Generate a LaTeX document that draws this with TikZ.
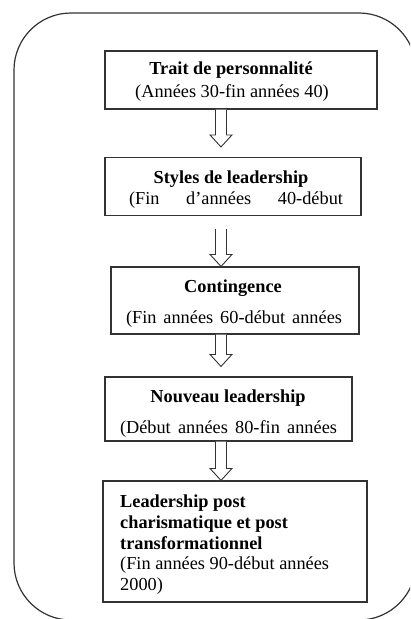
\documentclass[tikz,border=0pt]{standalone}
\usepackage{fontspec}
\setmainfont{Liberation Serif}
\usetikzlibrary{calc}

\tikzset{
  frame/.style={draw=black!80, line width=1.2pt, rounded corners=57pt},
  stage/.style={draw=black!80, line width=1.1pt, inner sep=0pt, fill=none},
  hollow/.style={draw=black!80, line width=0.9pt, fill=white, line join=miter},
  txt/.style={inner sep=0pt, anchor=base, font=\fontsize{18.3}{22}\selectfont},
  txtl/.style={txt, anchor=base west},
  hd/.style={txt, font=\fontsize{18.3}{22}\selectfont\bfseries},
  hdl/.style={hd, anchor=base west},
}

% hollow block arrow from a tail point down to a tip point, on the axis (ax)
\newcommand\blockarrow[2]{%
  \draw[hollow]
    ($(ax |- #1)+(-5.5pt,0)$) -- ($(ax |- #2)+(-5.5pt,12pt)$) --
    ($(ax |- #2)+(-11pt,12pt)$) -- (ax |- #2) --
    ($(ax |- #2)+(11pt,12pt)$) -- ($(ax |- #2)+(5.5pt,12pt)$) --
    ($(ax |- #1)+(5.5pt,0)$);
}

\begin{document}
\begin{tikzpicture}[x=1pt, y=-1pt]
  \useasboundingbox (0,0) rectangle (410,619);
  \clip (0,0) rectangle (410,619);

  % outer rounded frame
  \draw[frame] (14,13) rectangle (416,620);

  % stage boxes
  \node[stage, minimum width=272pt, minimum height=58pt] (b1) at (241,80) {};
  \node[stage, minimum width=256pt, minimum height=58pt] (b2) at (233,186.5) {};
  \node[stage, minimum width=248pt, minimum height=67pt] (b3) at (235,300.5) {};
  \node[stage, minimum width=247pt, minimum height=64pt] (b4) at (228.5,409) {};
  \node[stage, minimum width=264pt, minimum height=121pt] (b5) at (235,541.5) {};

  % box texts
  \node[hd]  (t1a) at (231,74) {Trait de personnalité};
  \node[txt] (t1b) at (232,97) {(Années 30-fin années 40)};

  \node[hd]  (t2a) at (231,183) {Styles de leadership};
  \node[txt] (t2b) at (236,204) {\makebox[214pt][s]{(Fin d’années 40-début}};

  \node[hd]  (t3a) at (233,292) {Contingence};
  \node[txt] (t3b) at (234,323) {\makebox[216pt][s]{(Fin années 60-début années}};

  \node[hd]  (t4a) at (228,402) {Nouveau leadership};
  \node[txt] (t4b) at (228.5,433) {\makebox[217pt][s]{(Début années 80-fin années}};

  \node[hdl]  (t5a) at (120,507) {Leadership post};
  \node[hdl]  (t5b) at (120,528) {charismatique et post};
  \node[hdl]  (t5c) at (120,549) {transformationnel};
  \node[txtl] (t5d) at (120,569) {(Fin années 90-début années};
  \node[txtl] (t5e) at (120,590) {2000)};

  % arrows between stages
  \coordinate (ax) at (221,0);
  \coordinate (s1) at (b1.south);
  \coordinate (e1) at ($(b2.north)+(0,10pt)$);
  \coordinate (s2) at ($(b2.south)+(0,-13pt)$);
  \coordinate (e2) at (b3.north);
  \coordinate (s3) at (b3.south);
  \coordinate (e3) at ($(b4.north)+(0,10pt)$);
  \coordinate (s4) at (b4.south);
  \coordinate (e4) at (b5.north);
  \blockarrow{s1}{e1}
  \blockarrow{s2}{e2}
  \blockarrow{s3}{e3}
  \blockarrow{s4}{e4}
\end{tikzpicture}
\end{document}
